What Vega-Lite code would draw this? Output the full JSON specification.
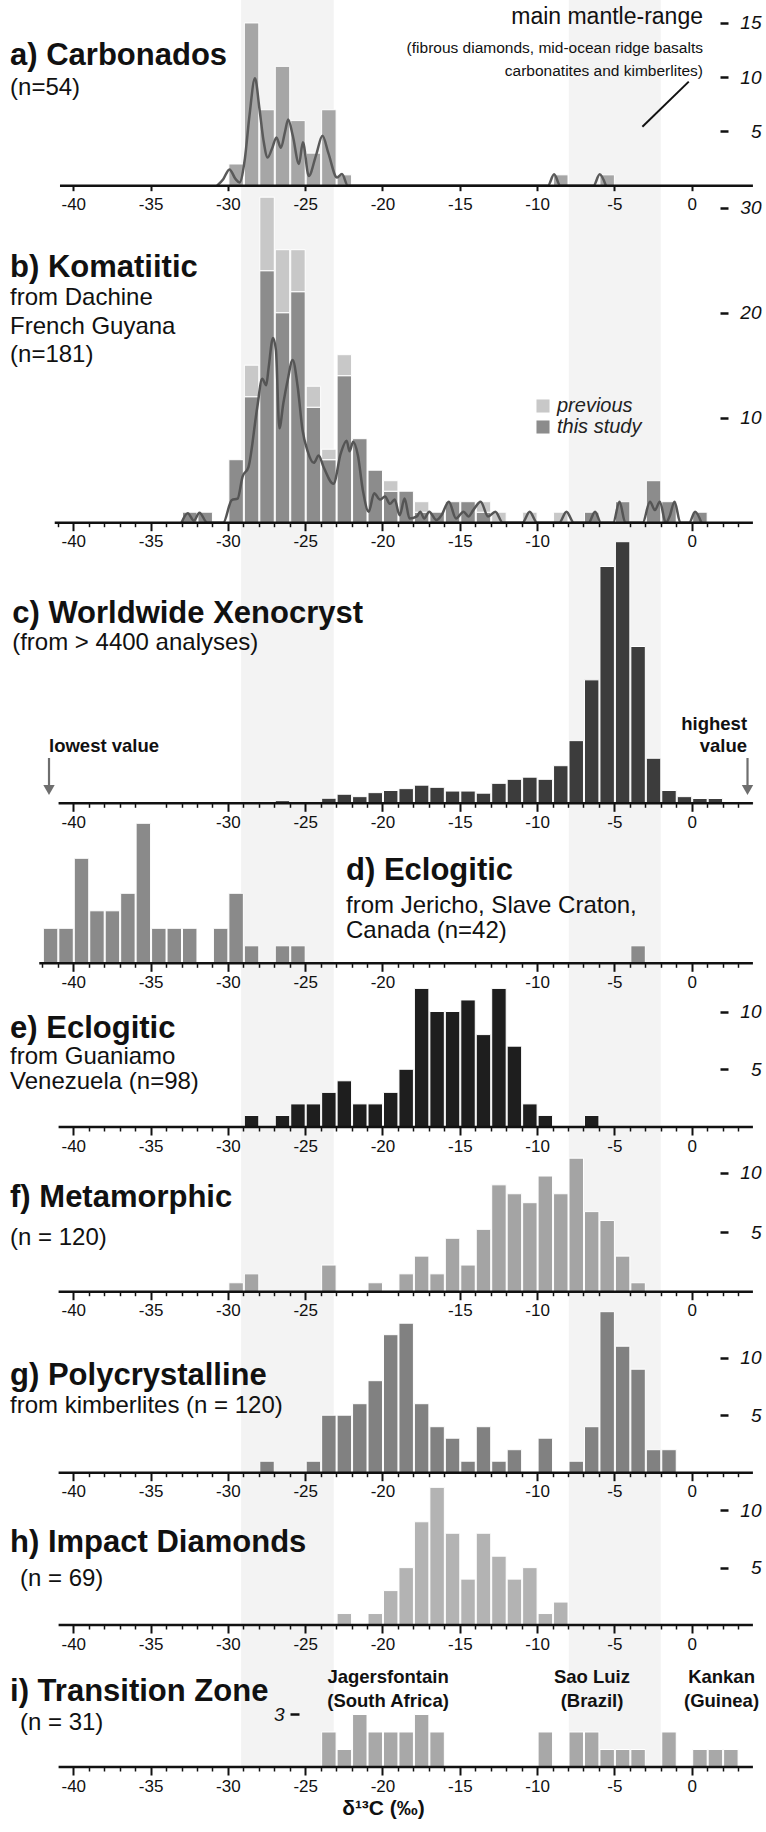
{
  "$schema": "https://vega.github.io/schema/vega-lite/v6.json",
  "width": 766,
  "height": 1767,
  "autosize": {"type": "none"},
  "padding": {"left": 0, "top": 0, "right": 0, "bottom": 65},
  "background": "white",
  "config": {
    "view": {"stroke": null},
    "font": "Liberation Sans",
    "axisX": {"domain": false, "grid": false, "tickColor": "#111", "labelFont": "Liberation Sans", "labelFontSize": 17, "labelColor": "#111", "labelPadding": 4, "labelOverlap": false, "labelFlush": false, "labelBound": false},
    "axisY": {"domain": false, "grid": false, "tickColor": "#111", "tickWidth": 2.5, "tickSize": 8, "labelFont": "Liberation Sans", "labelFontStyle": "italic", "labelFontSize": 19, "labelColor": "#111", "labelAlign": "right", "labelPadding": 33, "labelBaseline": "middle"},
    "text": {"font": "Liberation Sans", "color": "#111"}
  },
  "datasets": {
    "bands": [{"from": -29.15, "to": -23.15}, {"from": -7.95, "to": -2.0}],
    "a": [{"lo":-30,"hi":-29,"n":2},{"lo":-29,"hi":-28,"n":15},{"lo":-28,"hi":-27,"n":7},{"lo":-27,"hi":-26,"n":11},{"lo":-26,"hi":-25,"n":6},{"lo":-25,"hi":-24,"n":3},{"lo":-24,"hi":-23,"n":7},{"lo":-23,"hi":-22,"n":1},{"lo":-9,"hi":-8,"n":1},{"lo":-6,"hi":-5,"n":1}],
    "a_kde": [{"x":-30.7,"y":0},{"x":-30.3,"y":0.6},{"x":-29.9,"y":1.5},{"x":-29.5,"y":0.6},{"x":-29.25,"y":0.3},{"x":-28.9,"y":2.5},{"x":-28.6,"y":6.5},{"x":-28.25,"y":9.9},{"x":-27.95,"y":7.0},{"x":-27.7,"y":4.2},{"x":-27.43,"y":2.6},{"x":-27.1,"y":3.6},{"x":-26.86,"y":4.45},{"x":-26.57,"y":3.5},{"x":-26.3,"y":5.0},{"x":-26.1,"y":6.1},{"x":-25.8,"y":4.6},{"x":-25.4,"y":2.0},{"x":-25.15,"y":4.0},{"x":-24.77,"y":0.9},{"x":-24.3,"y":2.8},{"x":-23.88,"y":4.6},{"x":-23.5,"y":3.0},{"x":-22.94,"y":0.75},{"x":-22.62,"y":1.08},{"x":-22.24,"y":0},{"x":-9.3,"y":0},{"x":-8.9,"y":1.05},{"x":-8.5,"y":0},{"x":-6.35,"y":0},{"x":-5.95,"y":1.05},{"x":-5.55,"y":0}],
    "b": [
      {"lo":-33,"hi":-32,"series":"this study","n":1},
      {"lo":-32,"hi":-31,"series":"this study","n":1},
      {"lo":-30,"hi":-29,"series":"this study","n":6},
      {"lo":-29,"hi":-28,"series":"this study","n":12},{"lo":-29,"hi":-28,"series":"previous","n":3},
      {"lo":-28,"hi":-27,"series":"this study","n":24},{"lo":-28,"hi":-27,"series":"previous","n":7},
      {"lo":-27,"hi":-26,"series":"this study","n":20},{"lo":-27,"hi":-26,"series":"previous","n":6},
      {"lo":-26,"hi":-25,"series":"this study","n":22},{"lo":-26,"hi":-25,"series":"previous","n":4},
      {"lo":-25,"hi":-24,"series":"this study","n":11},{"lo":-25,"hi":-24,"series":"previous","n":2},
      {"lo":-24,"hi":-23,"series":"this study","n":6},{"lo":-24,"hi":-23,"series":"previous","n":1},
      {"lo":-23,"hi":-22,"series":"this study","n":14},{"lo":-23,"hi":-22,"series":"previous","n":2},
      {"lo":-22,"hi":-21,"series":"this study","n":8},
      {"lo":-21,"hi":-20,"series":"this study","n":5},
      {"lo":-20,"hi":-19,"series":"this study","n":3},{"lo":-20,"hi":-19,"series":"previous","n":1},
      {"lo":-19,"hi":-18,"series":"this study","n":3},
      {"lo":-18,"hi":-17,"series":"this study","n":1},{"lo":-18,"hi":-17,"series":"previous","n":1},
      {"lo":-17,"hi":-16,"series":"this study","n":1},
      {"lo":-16,"hi":-15,"series":"this study","n":2},
      {"lo":-15,"hi":-14,"series":"this study","n":2},
      {"lo":-14,"hi":-13,"series":"this study","n":1},{"lo":-14,"hi":-13,"series":"previous","n":1},
      {"lo":-13,"hi":-12,"series":"previous","n":1},
      {"lo":-11,"hi":-10,"series":"previous","n":1},
      {"lo":-9,"hi":-8,"series":"previous","n":1},
      {"lo":-7,"hi":-6,"series":"this study","n":1},
      {"lo":-5,"hi":-4,"series":"this study","n":2},
      {"lo":-3,"hi":-2,"series":"this study","n":4},
      {"lo":-2,"hi":-1,"series":"this study","n":2},
      {"lo":0,"hi":1,"series":"this study","n":1}
    ],
    "b_kde": [{"x":-33.0,"y":0},{"x":-32.6,"y":0.9},{"x":-32.2,"y":0.2},{"x":-31.84,"y":0.95},{"x":-31.33,"y":0},{"x":-30.3,"y":0},{"x":-29.75,"y":2.16},{"x":-29.37,"y":2.3},{"x":-29.05,"y":4.4},{"x":-28.67,"y":5.3},{"x":-28.1,"y":11.0},{"x":-27.78,"y":13.7},{"x":-27.52,"y":13.1},{"x":-27.37,"y":14.7},{"x":-27.08,"y":17.6},{"x":-26.89,"y":16.4},{"x":-26.67,"y":9.0},{"x":-26.41,"y":11.4},{"x":-26.13,"y":13.6},{"x":-25.81,"y":15.5},{"x":-25.49,"y":13.0},{"x":-25.17,"y":8.8},{"x":-24.86,"y":6.9},{"x":-24.44,"y":5.7},{"x":-24.13,"y":6.4},{"x":-23.81,"y":5.3},{"x":-23.17,"y":3.7},{"x":-22.7,"y":6.6},{"x":-22.32,"y":7.8},{"x":-22.13,"y":6.8},{"x":-21.9,"y":7.7},{"x":-21.59,"y":6.4},{"x":-21.27,"y":3.1},{"x":-20.89,"y":1.05},{"x":-20.54,"y":2.8},{"x":-20.16,"y":2.2},{"x":-19.84,"y":2.5},{"x":-19.52,"y":1.8},{"x":-19.21,"y":2.2},{"x":-18.89,"y":0.7},{"x":-18.57,"y":2.3},{"x":-18.25,"y":0.4},{"x":-17.78,"y":0.6},{"x":-17.56,"y":1.05},{"x":-17.3,"y":0.4},{"x":-16.98,"y":1.05},{"x":-16.51,"y":0.25},{"x":-16.19,"y":0.7},{"x":-15.71,"y":2.0},{"x":-15.24,"y":0.4},{"x":-14.76,"y":1.05},{"x":-14.44,"y":0.6},{"x":-14.13,"y":1.2},{"x":-13.65,"y":2.0},{"x":-13.17,"y":0.6},{"x":-12.7,"y":1.05},{"x":-12.22,"y":0},{"x":-10.95,"y":0},{"x":-10.48,"y":1.05},{"x":-10.0,"y":0},{"x":-8.57,"y":0},{"x":-8.1,"y":1.05},{"x":-7.62,"y":0},{"x":-6.67,"y":0},{"x":-6.25,"y":1.05},{"x":-5.87,"y":0},{"x":-5.08,"y":0},{"x":-4.67,"y":2.0},{"x":-4.29,"y":0},{"x":-3.17,"y":0},{"x":-2.7,"y":2.0},{"x":-2.38,"y":1.2},{"x":-2.06,"y":2.0},{"x":-1.68,"y":0},{"x":-1.43,"y":0.6},{"x":-1.11,"y":2.0},{"x":-0.73,"y":0},{"x":-0.16,"y":0},{"x":0.22,"y":1.05},{"x":0.63,"y":0}],
    "c": [{"lo":-41,"hi":-40,"n":4},{"lo":-40,"hi":-39,"n":4},{"lo":-39,"hi":-38,"n":4},{"lo":-38,"hi":-37,"n":4},{"lo":-37,"hi":-36,"n":4},{"lo":-36,"hi":-35,"n":4},{"lo":-35,"hi":-34,"n":4},{"lo":-34,"hi":-33,"n":4},{"lo":-33,"hi":-32,"n":4},{"lo":-32,"hi":-31,"n":2},{"lo":-31,"hi":-30,"n":4},{"lo":-30,"hi":-29,"n":4},{"lo":-29,"hi":-28,"n":4},{"lo":-28,"hi":-27,"n":4},{"lo":-27,"hi":-26,"n":10},{"lo":-26,"hi":-25,"n":3},{"lo":-25,"hi":-24,"n":3},{"lo":-24,"hi":-23,"n":19},{"lo":-23,"hi":-22,"n":34},{"lo":-22,"hi":-21,"n":25},{"lo":-21,"hi":-20,"n":40},{"lo":-20,"hi":-19,"n":48},{"lo":-19,"hi":-18,"n":55},{"lo":-18,"hi":-17,"n":68},{"lo":-17,"hi":-16,"n":60},{"lo":-16,"hi":-15,"n":46},{"lo":-15,"hi":-14,"n":46},{"lo":-14,"hi":-13,"n":38},{"lo":-13,"hi":-12,"n":75},{"lo":-12,"hi":-11,"n":90},{"lo":-11,"hi":-10,"n":98},{"lo":-10,"hi":-9,"n":90},{"lo":-9,"hi":-8,"n":141},{"lo":-8,"hi":-7,"n":235},{"lo":-7,"hi":-6,"n":463},{"lo":-6,"hi":-5,"n":888},{"lo":-5,"hi":-4,"n":981},{"lo":-4,"hi":-3,"n":588},{"lo":-3,"hi":-2,"n":169},{"lo":-2,"hi":-1,"n":48},{"lo":-1,"hi":0,"n":25},{"lo":0,"hi":1,"n":18},{"lo":1,"hi":2,"n":18},{"lo":2,"hi":3,"n":4},{"lo":3,"hi":4,"n":3}],
    "d": [{"lo":-42,"hi":-41,"n":2},{"lo":-41,"hi":-40,"n":2},{"lo":-40,"hi":-39,"n":6},{"lo":-39,"hi":-38,"n":3},{"lo":-38,"hi":-37,"n":3},{"lo":-37,"hi":-36,"n":4},{"lo":-36,"hi":-35,"n":8},{"lo":-35,"hi":-34,"n":2},{"lo":-34,"hi":-33,"n":2},{"lo":-33,"hi":-32,"n":2},{"lo":-31,"hi":-30,"n":2},{"lo":-30,"hi":-29,"n":4},{"lo":-29,"hi":-28,"n":1},{"lo":-27,"hi":-26,"n":1},{"lo":-26,"hi":-25,"n":1},{"lo":-4,"hi":-3,"n":1}],
    "e": [{"lo":-29,"hi":-28,"n":1},{"lo":-27,"hi":-26,"n":1},{"lo":-26,"hi":-25,"n":2},{"lo":-25,"hi":-24,"n":2},{"lo":-24,"hi":-23,"n":3},{"lo":-23,"hi":-22,"n":4},{"lo":-22,"hi":-21,"n":2},{"lo":-21,"hi":-20,"n":2},{"lo":-20,"hi":-19,"n":3},{"lo":-19,"hi":-18,"n":5},{"lo":-18,"hi":-17,"n":12},{"lo":-17,"hi":-16,"n":10},{"lo":-16,"hi":-15,"n":10},{"lo":-15,"hi":-14,"n":11},{"lo":-14,"hi":-13,"n":8},{"lo":-13,"hi":-12,"n":12},{"lo":-12,"hi":-11,"n":7},{"lo":-11,"hi":-10,"n":2},{"lo":-10,"hi":-9,"n":1},{"lo":-7,"hi":-6,"n":1}],
    "f": [{"lo":-30,"hi":-29,"n":0.75},{"lo":-29,"hi":-28,"n":1.5},{"lo":-24,"hi":-23,"n":2.24},{"lo":-21,"hi":-20,"n":0.75},{"lo":-19,"hi":-18,"n":1.5},{"lo":-18,"hi":-17,"n":2.99},{"lo":-17,"hi":-16,"n":1.5},{"lo":-16,"hi":-15,"n":4.49},{"lo":-15,"hi":-14,"n":2.24},{"lo":-14,"hi":-13,"n":5.24},{"lo":-13,"hi":-12,"n":8.98},{"lo":-12,"hi":-11,"n":8.23},{"lo":-11,"hi":-10,"n":7.48},{"lo":-10,"hi":-9,"n":9.72},{"lo":-9,"hi":-8,"n":8.23},{"lo":-8,"hi":-7,"n":11.22},{"lo":-7,"hi":-6,"n":6.73},{"lo":-6,"hi":-5,"n":5.98},{"lo":-5,"hi":-4,"n":2.99},{"lo":-4,"hi":-3,"n":0.75}],
    "g": [{"lo":-28,"hi":-27,"n":1},{"lo":-25,"hi":-24,"n":1},{"lo":-24,"hi":-23,"n":5},{"lo":-23,"hi":-22,"n":5},{"lo":-22,"hi":-21,"n":6},{"lo":-21,"hi":-20,"n":8},{"lo":-20,"hi":-19,"n":12},{"lo":-19,"hi":-18,"n":13},{"lo":-18,"hi":-17,"n":6},{"lo":-17,"hi":-16,"n":4},{"lo":-16,"hi":-15,"n":3},{"lo":-15,"hi":-14,"n":1},{"lo":-14,"hi":-13,"n":4},{"lo":-13,"hi":-12,"n":1},{"lo":-12,"hi":-11,"n":2},{"lo":-10,"hi":-9,"n":3},{"lo":-8,"hi":-7,"n":1},{"lo":-7,"hi":-6,"n":4},{"lo":-6,"hi":-5,"n":14},{"lo":-5,"hi":-4,"n":11},{"lo":-4,"hi":-3,"n":9},{"lo":-3,"hi":-2,"n":2},{"lo":-2,"hi":-1,"n":2}],
    "h": [{"lo":-23,"hi":-22,"n":1},{"lo":-21,"hi":-20,"n":1},{"lo":-20,"hi":-19,"n":3},{"lo":-19,"hi":-18,"n":5},{"lo":-18,"hi":-17,"n":9},{"lo":-17,"hi":-16,"n":12},{"lo":-16,"hi":-15,"n":8},{"lo":-15,"hi":-14,"n":4},{"lo":-14,"hi":-13,"n":8},{"lo":-13,"hi":-12,"n":6},{"lo":-12,"hi":-11,"n":4},{"lo":-11,"hi":-10,"n":5},{"lo":-10,"hi":-9,"n":1},{"lo":-9,"hi":-8,"n":2}],
    "i": [{"lo":-24,"hi":-23,"n":2},{"lo":-23,"hi":-22,"n":1},{"lo":-22,"hi":-21,"n":3},{"lo":-21,"hi":-20,"n":2},{"lo":-20,"hi":-19,"n":2},{"lo":-19,"hi":-18,"n":2},{"lo":-18,"hi":-17,"n":3},{"lo":-17,"hi":-16,"n":2},{"lo":-10,"hi":-9,"n":2},{"lo":-8,"hi":-7,"n":2},{"lo":-7,"hi":-6,"n":2},{"lo":-6,"hi":-5,"n":1},{"lo":-5,"hi":-4,"n":1},{"lo":-4,"hi":-3,"n":1},{"lo":-2,"hi":-1,"n":2},{"lo":0,"hi":1,"n":1},{"lo":1,"hi":2,"n":1},{"lo":2,"hi":3,"n":1}]
  },
  "resolve": {"scale": {"y": "independent", "color": "independent"}, "axis": {"x": "independent", "y": "independent"}},
  "layer": [
    {
      "data": {"name": "bands"},
      "mark": {"type": "rect", "color": "#000", "opacity": 0.047},
      "encoding": {
        "x": {"field": "from", "type": "quantitative", "scale": {"domain": [-44.74, 4.806], "nice": false}, "axis": null},
        "x2": {"field": "to"}
      }
    },
    {"data": {"values": [{}]}, "mark": {"type": "point", "opacity": 0}, "encoding": {"x": {"datum": 0, "axis": {"orient": "bottom", "offset": -1244.3, "values": [-41,-39,-38,-37,-36,-34,-33,-32,-31,-29,-28,-27,-26,-24,-23,-22,-21,-19,-18,-17,-16,-14,-13,-12,-11,-9,-8,-7,-6,-4,-3,-2,-1,1,2,3], "labels": false, "tickSize": 4, "tickWidth": 1.5, "title": null}}}},
    {"data": {"values": [{}]}, "mark": {"type": "point", "opacity": 0}, "encoding": {"x": {"datum": 0, "axis": {"orient": "bottom", "offset": -963.7, "values": [-39,-38,-37,-36,-34,-33,-32,-31,-29,-28,-27,-26,-24,-23,-22,-21,-19,-18,-17,-16,-14,-13,-12,-11,-9,-8,-7,-6,-4,-3,-2,-1,1,2,3], "labels": false, "tickSize": 4, "tickWidth": 1.5, "title": null}}}},
    {"data": {"values": [{}]}, "mark": {"type": "point", "opacity": 0}, "encoding": {"x": {"datum": 0, "axis": {"orient": "bottom", "offset": -803.7, "values": [-42,-41,-39,-38,-37,-36,-34,-33,-32,-31,-29,-28,-27,-26,-24,-23,-22,-21,-19,-18,-17,-16,-14,-13,-12,-11,-9,-8,-7,-6,-4,-3,-2,-1,1,2,3], "labels": false, "tickSize": 4, "tickWidth": 1.5, "title": null}}}},
    {"data": {"values": [{}]}, "mark": {"type": "point", "opacity": 0}, "encoding": {"x": {"datum": 0, "axis": {"orient": "bottom", "offset": -640, "values": [-39,-38,-37,-36,-34,-33,-32,-31,-29,-28,-27,-26,-24,-23,-22,-21,-19,-18,-17,-16,-14,-13,-12,-11,-9,-8,-7,-6,-4,-3,-2,-1,1,2,3], "labels": false, "tickSize": 4, "tickWidth": 1.5, "title": null}}}},
    {"data": {"values": [{}]}, "mark": {"type": "point", "opacity": 0}, "encoding": {"x": {"datum": 0, "axis": {"orient": "bottom", "offset": -475.3, "values": [-39,-38,-37,-36,-34,-33,-32,-31,-29,-28,-27,-26,-24,-23,-22,-21,-19,-18,-17,-16,-14,-13,-12,-11,-9,-8,-7,-6,-4,-3,-2,-1,1,2,3], "labels": false, "tickSize": 4, "tickWidth": 1.5, "title": null}}}},
    {"data": {"values": [{}]}, "mark": {"type": "point", "opacity": 0}, "encoding": {"x": {"datum": 0, "axis": {"orient": "bottom", "offset": -294.3, "values": [-39,-38,-37,-36,-34,-33,-32,-31,-29,-28,-27,-26,-24,-23,-22,-21,-19,-18,-17,-16,-14,-13,-12,-11,-9,-8,-7,-6,-4,-3,-2,-1,1,2,3], "labels": false, "tickSize": 4, "tickWidth": 1.5, "title": null}}}},
    {"data": {"values": [{}]}, "mark": {"type": "point", "opacity": 0}, "encoding": {"x": {"datum": 0, "axis": {"orient": "bottom", "offset": -142, "values": [-39,-38,-37,-36,-34,-33,-32,-31,-29,-28,-27,-26,-24,-23,-22,-21,-19,-18,-17,-16,-14,-13,-12,-11,-9,-8,-7,-6,-4,-3,-2,-1,1,2,3], "labels": false, "tickSize": 4, "tickWidth": 1.5, "title": null}}}},
    {"data": {"values": [{}]}, "mark": {"type": "point", "opacity": 0}, "encoding": {"x": {"datum": 0, "axis": {"orient": "bottom", "offset": 0, "values": [-39,-38,-37,-36,-34,-33,-32,-31,-29,-28,-27,-26,-24,-23,-22,-21,-19,-18,-17,-16,-14,-13,-12,-11,-9,-8,-7,-6,-4,-3,-2,-1,1,2,3], "labels": false, "tickSize": 4, "tickWidth": 1.5, "title": null}}}},
    {
      "layer": [
        {
          "data": {"name": "a"},
          "mark": {"type": "bar", "color": "#a6a6a6", "stroke": "white", "strokeWidth": 1},
          "encoding": {
            "x": {"field": "lo", "type": "quantitative", "bin": {"binned": true}, "scale": {"domain": [-44.74, 4.806], "nice": false}, "axis": {"orient": "bottom", "offset": -1581.3, "title": null, "values": [-40,-35,-30,-25,-20,-15,-10,-5,0], "tickSize": 5, "tickWidth": 2, "labelPadding": 6, "labelExpr": "'' + toNumber(datum.value)"}},
            "x2": {"field": "hi"},
            "y": {"field": "n", "type": "quantitative", "scale": {"domain": [-145.74, 17.115], "nice": false, "zero": false}, "axis": {"orient": "right", "offset": -46, "values": [5, 10, 15], "title": null}}
          }
        },
        {
          "data": {"name": "a_kde"},
          "mark": {"type": "line", "color": "#5a5a5a", "strokeWidth": 2.5, "interpolate": "monotone"},
          "encoding": {"x": {"field": "x", "type": "quantitative"}, "y": {"field": "y", "type": "quantitative"}}
        },
        {
          "data": {"values": [{}]},
          "mark": {"type": "rule", "color": "#111", "strokeWidth": 2.5},
          "encoding": {"x": {"datum": -40.86}, "x2": {"datum": 3.96}, "y": {"datum": 0}}
        },
        {
          "data": {"values": [{}]},
          "mark": {"type": "rule", "color": "#111", "strokeWidth": 2},
          "encoding": {"x": {"datum": -0.19}, "x2": {"datum": -3.19}, "y": {"datum": 9.59}, "y2": {"datum": 5.44}}
        },
        {
          "data": {"values": [{}]},
          "mark": {"type": "text", "align": "left", "baseline": "alphabetic", "fontSize": 31, "fontWeight": "bold", "text": "a) Carbonados"},
          "encoding": {"x": {"datum": -44.09}, "y": {"datum": 11.12}}
        },
        {
          "data": {"values": [{}]},
          "mark": {"type": "text", "align": "left", "baseline": "alphabetic", "fontSize": 24, "text": "(n=54)"},
          "encoding": {"x": {"datum": -44.09}, "y": {"datum": 8.36}}
        },
        {
          "data": {"values": [{}]},
          "mark": {"type": "text", "align": "right", "baseline": "alphabetic", "fontSize": 23, "text": "main mantle-range"},
          "encoding": {"x": {"datum": 0.73}, "y": {"datum": 14.9}}
        },
        {
          "data": {"values": [{}]},
          "mark": {"type": "text", "align": "right", "baseline": "alphabetic", "fontSize": 15.5, "lineHeight": 23, "text": ["(fibrous diamonds, mid-ocean ridge basalts", "carbonatites and kimberlites)"]},
          "encoding": {"x": {"datum": 0.73}, "y": {"datum": 12.23}}
        }
      ]
    },
    {
      "layer": [
        {
          "data": {"name": "b"},
          "mark": {"type": "bar", "stroke": "white", "strokeWidth": 1},
          "encoding": {
            "x": {"field": "lo", "type": "quantitative", "bin": {"binned": true}, "scale": {"domain": [-44.74, 4.806], "nice": false}, "axis": {"orient": "bottom", "offset": -1244.3, "title": null, "values": [-40,-35,-30,-25,-20,-15,-10,0], "tickSize": 8, "tickWidth": 2, "labelPadding": 3, "labelExpr": "'' + toNumber(datum.value)"}},
            "x2": {"field": "hi"},
            "y": {"field": "n", "type": "quantitative", "stack": "zero", "scale": {"domain": [-118.5, 49.78], "nice": false, "zero": false}, "axis": {"orient": "right", "offset": -46, "values": [10, 20, 30], "title": null}},
            "color": {"field": "series", "type": "nominal", "scale": {"domain": ["previous", "this study"], "range": ["#c8c8c8", "#8c8c8c"]}, "legend": {"orient": "none", "legendX": 533, "legendY": 396, "title": null, "symbolType": "square", "symbolSize": 170, "symbolStrokeWidth": 0, "labelFontSize": 20, "labelFontStyle": "italic", "labelFont": "Liberation Sans", "labelColor": "#222", "rowPadding": 1, "labelOffset": 4, "padding": 0}},
            "order": {"field": "series", "sort": "descending"}
          }
        },
        {
          "data": {"name": "b_kde"},
          "mark": {"type": "line", "color": "#555", "strokeWidth": 2.5, "interpolate": "monotone"},
          "encoding": {"x": {"field": "x", "type": "quantitative"}, "y": {"field": "y", "type": "quantitative"}}
        },
        {
          "data": {"values": [{}]},
          "mark": {"type": "rule", "color": "#111", "strokeWidth": 2.5},
          "encoding": {"x": {"datum": -41.2}, "x2": {"datum": 3.96}, "y": {"datum": 0}}
        },
        {
          "data": {"values": [{}]},
          "mark": {"type": "text", "align": "left", "baseline": "alphabetic", "fontSize": 31, "fontWeight": "bold", "text": "b) Komatiitic"},
          "encoding": {"x": {"datum": -44.09}, "y": {"datum": 23.4}}
        },
        {
          "data": {"values": [{}]},
          "mark": {"type": "text", "align": "left", "baseline": "alphabetic", "fontSize": 24, "lineHeight": 28.3, "text": ["from Dachine", "French Guyana", "(n=181)"]},
          "encoding": {"x": {"datum": -44.09}, "y": {"datum": 20.71}}
        }
      ]
    },
    {
      "layer": [
        {
          "data": {"name": "c"},
          "mark": {"type": "bar", "color": "#3c3c3c", "stroke": "white", "strokeWidth": 1},
          "encoding": {
            "x": {"field": "lo", "type": "quantitative", "bin": {"binned": true}, "scale": {"domain": [-44.74, 4.806], "nice": false}, "axis": {"orient": "bottom", "offset": -963.7, "title": null, "values": [-40,-30,-25,-20,-15,-10,-5,0], "tickSize": 8, "tickWidth": 2, "labelPadding": 3, "labelExpr": "'' + toNumber(datum.value)"}},
            "x2": {"field": "hi"},
            "y": {"field": "n", "type": "quantitative", "scale": {"domain": [-3613.8, 3012.4], "nice": false, "zero": false}, "axis": null}
          }
        },
        {
          "data": {"values": [{}]},
          "mark": {"type": "rule", "color": "#111", "strokeWidth": 2.5},
          "encoding": {"x": {"datum": -40.95}, "x2": {"datum": 3.96}, "y": {"datum": 0}}
        },
        {
          "data": {"values": [{}]},
          "mark": {"type": "text", "align": "left", "baseline": "alphabetic", "fontSize": 31, "fontWeight": "bold", "text": "c) Worldwide Xenocryst"},
          "encoding": {"x": {"datum": -43.95}, "y": {"datum": 677.3}}
        },
        {
          "data": {"values": [{}]},
          "mark": {"type": "text", "align": "left", "baseline": "alphabetic", "fontSize": 24, "text": "(from > 4400 analyses)"},
          "encoding": {"x": {"datum": -43.95}, "y": {"datum": 574.9}}
        },
        {
          "data": {"values": [{}]},
          "mark": {"type": "text", "align": "left", "baseline": "alphabetic", "fontSize": 18.5, "fontWeight": "bold", "text": "lowest value"},
          "encoding": {"x": {"datum": -41.57}, "y": {"datum": 191.3}}
        },
        {
          "data": {"values": [{}]},
          "mark": {"type": "text", "align": "right", "baseline": "alphabetic", "fontSize": 18.5, "fontWeight": "bold", "lineHeight": 22.3, "text": ["highest", "value"]},
          "encoding": {"x": {"datum": 3.58}, "y": {"datum": 274.9}}
        },
        {
          "data": {"values": [{}]},
          "mark": {"type": "rule", "color": "#6e6e6e", "strokeWidth": 2.2},
          "encoding": {"x": {"datum": -41.57}, "y": {"datum": 169.9}, "y2": {"datum": 68.6}}
        },
        {
          "data": {"values": [{}]},
          "mark": {"type": "rule", "color": "#6e6e6e", "strokeWidth": 2.2},
          "encoding": {"x": {"datum": 3.61}, "y": {"datum": 169.9}, "y2": {"datum": 68.6}}
        },
        {
          "data": {"values": [{}]},
          "mark": {"type": "point", "shape": "triangle-down", "filled": true, "color": "#6e6e6e", "opacity": 1, "size": 130},
          "encoding": {"x": {"datum": -41.57}, "y": {"datum": 49.9}}
        },
        {
          "data": {"values": [{}]},
          "mark": {"type": "point", "shape": "triangle-down", "filled": true, "color": "#6e6e6e", "opacity": 1, "size": 130},
          "encoding": {"x": {"datum": 3.61}, "y": {"datum": 49.9}}
        }
      ]
    },
    {
      "layer": [
        {
          "data": {"name": "d"},
          "mark": {"type": "bar", "color": "#8a8a8a", "stroke": "white", "strokeWidth": 1},
          "encoding": {
            "x": {"field": "lo", "type": "quantitative", "bin": {"binned": true}, "scale": {"domain": [-44.74, 4.806], "nice": false}, "axis": {"orient": "bottom", "offset": -803.7, "title": null, "values": [-40,-35,-30,-25,-20,-10,-5,0], "tickSize": 8, "tickWidth": 2, "labelPadding": 3, "labelExpr": "'' + toNumber(datum.value)"}},
            "x2": {"field": "hi"},
            "y": {"field": "n", "type": "quantitative", "scale": {"domain": [-45.926, 55.046], "nice": false, "zero": false}, "axis": null}
          }
        },
        {
          "data": {"values": [{}]},
          "mark": {"type": "rule", "color": "#111", "strokeWidth": 2.5},
          "encoding": {"x": {"datum": -42.2}, "x2": {"datum": 3.96}, "y": {"datum": 0}}
        },
        {
          "data": {"values": [{}]},
          "mark": {"type": "text", "align": "left", "baseline": "alphabetic", "fontSize": 31, "fontWeight": "bold", "text": "d) Eclogitic"},
          "encoding": {"x": {"datum": -22.36}, "y": {"datum": 4.77}}
        },
        {
          "data": {"values": [{}]},
          "mark": {"type": "text", "align": "left", "baseline": "alphabetic", "fontSize": 24, "lineHeight": 24.5, "text": ["from Jericho, Slave Craton,", "Canada (n=42)"]},
          "encoding": {"x": {"datum": -22.36}, "y": {"datum": 2.87}}
        }
      ]
    },
    {
      "layer": [
        {
          "data": {"name": "e"},
          "mark": {"type": "bar", "color": "#1e1e1e", "stroke": "white", "strokeWidth": 1},
          "encoding": {
            "x": {"field": "lo", "type": "quantitative", "bin": {"binned": true}, "scale": {"domain": [-44.74, 4.806], "nice": false}, "axis": {"orient": "bottom", "offset": -640, "title": null, "values": [-40,-35,-30,-25,-20,-15,-10,-5,0], "tickSize": 8, "tickWidth": 2, "labelPadding": 3, "labelExpr": "'' + toNumber(datum.value)"}},
            "x2": {"field": "hi"},
            "y": {"field": "n", "type": "quantitative", "scale": {"domain": [-55.411, 97.576], "nice": false, "zero": false}, "axis": {"orient": "right", "offset": -46, "values": [5, 10], "title": null}}
          }
        },
        {
          "data": {"values": [{}]},
          "mark": {"type": "rule", "color": "#111", "strokeWidth": 2.5},
          "encoding": {"x": {"datum": -40.95}, "x2": {"datum": 3.96}, "y": {"datum": 0}}
        },
        {
          "data": {"values": [{}]},
          "mark": {"type": "text", "align": "left", "baseline": "alphabetic", "fontSize": 31, "fontWeight": "bold", "text": "e) Eclogitic"},
          "encoding": {"x": {"datum": -44.09}, "y": {"datum": 7.71}}
        },
        {
          "data": {"values": [{}]},
          "mark": {"type": "text", "align": "left", "baseline": "alphabetic", "fontSize": 24, "lineHeight": 25, "text": ["from Guaniamo", "Venezuela (n=98)"]},
          "encoding": {"x": {"datum": -44.09}, "y": {"datum": 5.45}}
        }
      ]
    },
    {
      "layer": [
        {
          "data": {"name": "f"},
          "mark": {"type": "bar", "color": "#a4a4a4", "stroke": "white", "strokeWidth": 1},
          "encoding": {
            "x": {"field": "lo", "type": "quantitative", "bin": {"binned": true}, "scale": {"domain": [-44.74, 4.806], "nice": false}, "axis": {"orient": "bottom", "offset": -475.3, "title": null, "values": [-40,-35,-30,-25,-15,-10,0], "tickSize": 8, "tickWidth": 2, "labelPadding": 3, "labelExpr": "'' + toNumber(datum.value)"}},
            "x2": {"field": "hi"},
            "y": {"field": "n", "type": "quantitative", "scale": {"domain": [-39.941, 108.546], "nice": false, "zero": false}, "axis": {"orient": "right", "offset": -46, "values": [5, 10], "title": null}}
          }
        },
        {
          "data": {"values": [{}]},
          "mark": {"type": "rule", "color": "#111", "strokeWidth": 2.5},
          "encoding": {"x": {"datum": -40.95}, "x2": {"datum": 3.96}, "y": {"datum": 0}}
        },
        {
          "data": {"values": [{}]},
          "mark": {"type": "text", "align": "left", "baseline": "alphabetic", "fontSize": 31, "fontWeight": "bold", "text": "f) Metamorphic"},
          "encoding": {"x": {"datum": -44.09}, "y": {"datum": 7.14}}
        },
        {
          "data": {"values": [{}]},
          "mark": {"type": "text", "align": "left", "baseline": "alphabetic", "fontSize": 24, "text": "(n = 120)"},
          "encoding": {"x": {"datum": -44.09}, "y": {"datum": 3.92}}
        }
      ]
    },
    {
      "layer": [
        {
          "data": {"name": "g"},
          "mark": {"type": "bar", "color": "#818181", "stroke": "white", "strokeWidth": 1},
          "encoding": {
            "x": {"field": "lo", "type": "quantitative", "bin": {"binned": true}, "scale": {"domain": [-44.74, 4.806], "nice": false}, "axis": {"orient": "bottom", "offset": -294.3, "title": null, "values": [-40,-35,-30,-25,-20,-10,-5,0], "tickSize": 8, "tickWidth": 2, "labelPadding": 3, "labelExpr": "'' + toNumber(datum.value)"}},
            "x2": {"field": "hi"},
            "y": {"field": "n", "type": "quantitative", "scale": {"domain": [-25.591, 128.061], "nice": false, "zero": false}, "axis": {"orient": "right", "offset": -46, "values": [5, 10], "title": null}}
          }
        },
        {
          "data": {"values": [{}]},
          "mark": {"type": "rule", "color": "#111", "strokeWidth": 2.5},
          "encoding": {"x": {"datum": -40.95}, "x2": {"datum": 3.96}, "y": {"datum": 0}}
        },
        {
          "data": {"values": [{}]},
          "mark": {"type": "text", "align": "left", "baseline": "alphabetic", "fontSize": 31, "fontWeight": "bold", "text": "g) Polycrystalline"},
          "encoding": {"x": {"datum": -44.09}, "y": {"datum": 7.63}}
        },
        {
          "data": {"values": [{}]},
          "mark": {"type": "text", "align": "left", "baseline": "alphabetic", "fontSize": 24, "text": "from kimberlites (n = 120)"},
          "encoding": {"x": {"datum": -44.09}, "y": {"datum": 5.19}}
        }
      ]
    },
    {
      "layer": [
        {
          "data": {"name": "h"},
          "mark": {"type": "bar", "color": "#b3b3b3", "stroke": "white", "strokeWidth": 1},
          "encoding": {
            "x": {"field": "lo", "type": "quantitative", "bin": {"binned": true}, "scale": {"domain": [-44.74, 4.806], "nice": false}, "axis": {"orient": "bottom", "offset": -142, "title": null, "values": [-40,-35,-30,-25,-20,-15,-10,-5,0], "tickSize": 8, "tickWidth": 2, "labelPadding": 3, "labelExpr": "'' + toNumber(datum.value)"}},
            "x2": {"field": "hi"},
            "y": {"field": "n", "type": "quantitative", "scale": {"domain": [-12.38, 141.674], "nice": false, "zero": false}, "axis": {"orient": "right", "offset": -46, "values": [5, 10], "title": null}}
          }
        },
        {
          "data": {"values": [{}]},
          "mark": {"type": "rule", "color": "#111", "strokeWidth": 2.5},
          "encoding": {"x": {"datum": -40.95}, "x2": {"datum": 3.96}, "y": {"datum": 0}}
        },
        {
          "data": {"values": [{}]},
          "mark": {"type": "text", "align": "left", "baseline": "alphabetic", "fontSize": 31, "fontWeight": "bold", "text": "h) Impact Diamonds"},
          "encoding": {"x": {"datum": -44.09}, "y": {"datum": 6.39}}
        },
        {
          "data": {"values": [{}]},
          "mark": {"type": "text", "align": "left", "baseline": "alphabetic", "fontSize": 24, "text": "(n = 69)"},
          "encoding": {"x": {"datum": -43.45}, "y": {"datum": 3.4}}
        }
      ]
    },
    {
      "layer": [
        {
          "data": {"name": "i"},
          "mark": {"type": "bar", "color": "#a8a8a8", "stroke": "white", "strokeWidth": 1},
          "encoding": {
            "x": {"field": "lo", "type": "quantitative", "bin": {"binned": true}, "scale": {"domain": [-44.74, 4.806], "nice": false}, "axis": {"orient": "bottom", "offset": 0, "title": "δ¹³C (‰)", "titleFontSize": 21, "titleFontWeight": "bold", "titleColor": "#111", "titlePadding": 3, "values": [-40,-35,-30,-25,-20,-15,-10,-5,0], "tickSize": 8, "tickWidth": 2, "labelPadding": 3, "labelExpr": "'' + toNumber(datum.value)"}},
            "x2": {"field": "hi"},
            "y": {"field": "n", "type": "quantitative", "scale": {"domain": [0, 100.971], "nice": false, "zero": false}, "axis": {"orient": "left", "offset": -299, "values": [3], "title": null, "tickSize": 9, "labelAlign": "right", "labelPadding": 6}}
          }
        },
        {
          "data": {"values": [{}]},
          "mark": {"type": "rule", "color": "#111", "strokeWidth": 2.5},
          "encoding": {"x": {"datum": -40.95}, "x2": {"datum": 3.96}, "y": {"datum": 0}}
        },
        {
          "data": {"values": [{}]},
          "mark": {"type": "text", "align": "left", "baseline": "alphabetic", "fontSize": 31, "fontWeight": "bold", "text": "i) Transition Zone"},
          "encoding": {"x": {"datum": -44.09}, "y": {"datum": 3.79}}
        },
        {
          "data": {"values": [{}]},
          "mark": {"type": "text", "align": "left", "baseline": "alphabetic", "fontSize": 24, "text": "(n = 31)"},
          "encoding": {"x": {"datum": -43.45}, "y": {"datum": 2.11}}
        },
        {
          "data": {"values": [{}]},
          "mark": {"type": "text", "align": "center", "baseline": "alphabetic", "fontSize": 18.5, "fontWeight": "bold", "lineHeight": 23.4, "text": ["Jagersfontain", "(South Africa)"]},
          "encoding": {"x": {"datum": -19.64}, "y": {"datum": 4.78}}
        },
        {
          "data": {"values": [{}]},
          "mark": {"type": "text", "align": "center", "baseline": "alphabetic", "fontSize": 18.5, "fontWeight": "bold", "lineHeight": 23.4, "text": ["Sao Luiz", "(Brazil)"]},
          "encoding": {"x": {"datum": -6.45}, "y": {"datum": 4.78}}
        },
        {
          "data": {"values": [{}]},
          "mark": {"type": "text", "align": "center", "baseline": "alphabetic", "fontSize": 18.5, "fontWeight": "bold", "lineHeight": 23.4, "text": ["Kankan", "(Guinea)"]},
          "encoding": {"x": {"datum": 1.93}, "y": {"datum": 4.78}}
        }
      ]
    }
  ]
}
